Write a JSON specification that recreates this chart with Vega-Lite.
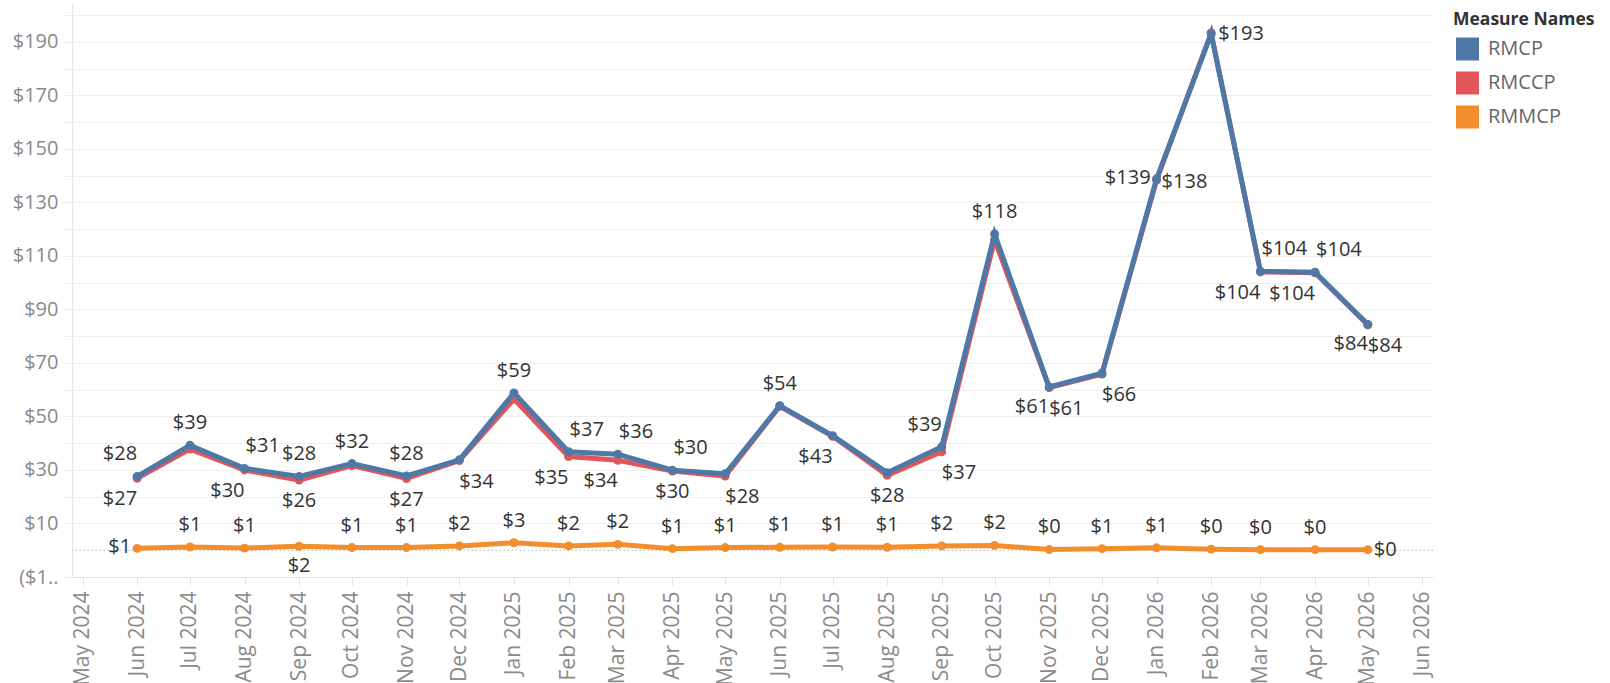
{
  "$schema": "https://vega.github.io/schema/vega-lite/v6.json",
  "width": 1361,
  "height": 574,
  "autosize": {"type": "none"},
  "padding": {"left": 72, "top": 3, "right": 177, "bottom": 106},
  "config": {
    "view": {"stroke": null},
    "font": "Open Sans",
    "text": {"fontSize": 20, "color": "#333333"},
    "axis": {"labelOverlap": false}
  },
  "resolve": {"axis": {"y": "independent"}},
  "data": {"values": [
    {"month": "2024-06-01T00:00:00", "RMCP": 27.6, "RMCCP": 26.9, "RMMCP": 0.7, "lRMCP": "$28", "lRMCCP": "$27", "lRMMCP": "$1"},
    {"month": "2024-07-01T00:00:00", "RMCP": 39.2, "RMCCP": 37.8, "RMMCP": 1.2, "lRMCP": "$39", "lRMCCP": "", "lRMMCP": "$1"},
    {"month": "2024-08-01T00:00:00", "RMCP": 30.6, "RMCCP": 30.0, "RMMCP": 0.8, "lRMCP": "$31", "lRMCCP": "$30", "lRMMCP": "$1"},
    {"month": "2024-09-01T00:00:00", "RMCP": 27.6, "RMCCP": 26.2, "RMMCP": 1.5, "lRMCP": "$28", "lRMCCP": "$26", "lRMMCP": "$2"},
    {"month": "2024-10-01T00:00:00", "RMCP": 32.4, "RMCCP": 31.6, "RMMCP": 1.0, "lRMCP": "$32", "lRMCCP": "", "lRMMCP": "$1"},
    {"month": "2024-11-01T00:00:00", "RMCP": 27.8, "RMCCP": 26.8, "RMMCP": 1.0, "lRMCP": "$28", "lRMCCP": "$27", "lRMMCP": "$1"},
    {"month": "2024-12-01T00:00:00", "RMCP": 33.8, "RMCCP": 33.5, "RMMCP": 1.6, "lRMCP": "", "lRMCCP": "$34", "lRMMCP": "$2"},
    {"month": "2025-01-01T00:00:00", "RMCP": 58.8, "RMCCP": 56.5, "RMMCP": 2.8, "lRMCP": "$59", "lRMCCP": "", "lRMMCP": "$3"},
    {"month": "2025-02-01T00:00:00", "RMCP": 36.8, "RMCCP": 35.0, "RMMCP": 1.6, "lRMCP": "$37", "lRMCCP": "$35", "lRMMCP": "$2"},
    {"month": "2025-03-01T00:00:00", "RMCP": 35.9, "RMCCP": 33.6, "RMMCP": 2.2, "lRMCP": "$36", "lRMCCP": "$34", "lRMMCP": "$2"},
    {"month": "2025-04-01T00:00:00", "RMCP": 29.9, "RMCCP": 29.6, "RMMCP": 0.6, "lRMCP": "$30", "lRMCCP": "$30", "lRMMCP": "$1"},
    {"month": "2025-05-01T00:00:00", "RMCP": 28.6, "RMCCP": 27.7, "RMMCP": 1.0, "lRMCP": "", "lRMCCP": "$28", "lRMMCP": "$1"},
    {"month": "2025-06-01T00:00:00", "RMCP": 54.0, "RMCCP": 53.8, "RMMCP": 1.1, "lRMCP": "$54", "lRMCCP": "", "lRMMCP": "$1"},
    {"month": "2025-07-01T00:00:00", "RMCP": 42.8, "RMCCP": 42.6, "RMMCP": 1.2, "lRMCP": "", "lRMCCP": "$43", "lRMMCP": "$1"},
    {"month": "2025-08-01T00:00:00", "RMCP": 29.0, "RMCCP": 28.0, "RMMCP": 1.1, "lRMCP": "", "lRMCCP": "$28", "lRMMCP": "$1"},
    {"month": "2025-09-01T00:00:00", "RMCP": 38.7, "RMCCP": 36.8, "RMMCP": 1.6, "lRMCP": "$39", "lRMCCP": "$37", "lRMMCP": "$2"},
    {"month": "2025-10-01T00:00:00", "RMCP": 118.2, "RMCCP": 116.0, "RMMCP": 1.8, "lRMCP": "$118", "lRMCCP": "", "lRMMCP": "$2"},
    {"month": "2025-11-01T00:00:00", "RMCP": 61.0, "RMCCP": 60.8, "RMMCP": 0.3, "lRMCP": "$61", "lRMCCP": "$61", "lRMMCP": "$0"},
    {"month": "2025-12-01T00:00:00", "RMCP": 66.2, "RMCCP": 65.8, "RMMCP": 0.6, "lRMCP": "", "lRMCCP": "$66", "lRMMCP": "$1"},
    {"month": "2026-01-01T00:00:00", "RMCP": 138.8, "RMCCP": 138.3, "RMMCP": 0.9, "lRMCP": "$139", "lRMCCP": "$138", "lRMMCP": "$1"},
    {"month": "2026-02-01T00:00:00", "RMCP": 193.0, "RMCCP": 193.3, "RMMCP": 0.4, "lRMCP": "$193", "lRMCCP": "", "lRMMCP": "$0"},
    {"month": "2026-03-01T00:00:00", "RMCP": 104.2, "RMCCP": 104.0, "RMMCP": 0.2, "lRMCP": "$104", "lRMCCP": "$104", "lRMMCP": "$0"},
    {"month": "2026-04-01T00:00:00", "RMCP": 103.9, "RMCCP": 103.7, "RMMCP": 0.2, "lRMCP": "$104", "lRMCCP": "$104", "lRMMCP": "$0"},
    {"month": "2026-05-01T00:00:00", "RMCP": 84.4, "RMCCP": 84.2, "RMMCP": 0.2, "lRMCP": "$84", "lRMCCP": "$84", "lRMMCP": "$0"}
  ]},
  "encoding": {
    "x": {
      "field": "month", "type": "temporal",
      "scale": {"domain": [{"year": 2024, "month": 4, "date": 25}, {"year": 2026, "month": 6, "date": 7}]},
      "axis": {
        "title": null, "grid": false,
        "tickCount": {"interval": "month", "step": 1},
        "format": "%b %Y", "labelAngle": 270, "labelAlign": "right", "labelBaseline": "middle",
        "labelFontSize": 21, "labelColor": "#8a8a8a", "labelPadding": 6,
        "labelFlush": false, "labelOverlap": false, "labelBound": false,
        "tickSize": 8, "tickColor": "#e3e3e3", "domainColor": "#e3e3e3"
      }
    }
  },
  "layer": [
    {
      "data": {"values": [{"z": 0}]},
      "mark": {"type": "rule", "color": "#aaaaaa", "strokeDash": [1.5, 2.5], "strokeWidth": 1},
      "encoding": {
        "x": null,
        "y": {"field": "z", "type": "quantitative", "scale": {"domain": [-10, 204.5], "nice": false, "zero": false},
          "axis": {"orient": "left", "title": null, "values": [20, 40, 60, 80, 100, 120, 140, 160, 180, 200], "labels": false, "domain": false, "tickSize": 9, "tickColor": "#ececec", "grid": true, "gridColor": "#eeeeee", "gridWidth": 1.2}
        }
      }
    },
    {
      "mark": {"type": "line", "strokeWidth": 5, "point": {"filled": true, "size": 80}},
      "encoding": {
        "y": {"field": "RMCCP", "type": "quantitative", "scale": {"domain": [-10, 204.5], "nice": false, "zero": false},
          "axis": {"orient": "left", "title": null, "values": [-10, 10, 30, 50, 70, 90, 110, 130, 150, 170, 190], "labelExpr": "datum.value < 0 ? '($1..' : '$' + datum.value", "labelFontSize": 20, "labelColor": "#8a8a8a", "labelPadding": 5, "tickSize": 9, "tickColor": "#ececec", "domainColor": "#e6e6e6", "grid": true, "gridColor": "#eeeeee", "gridWidth": 1.2, "labelOverlap": false, "labelFlush": false}},
        "color": {
          "datum": "RMCCP",
          "scale": {"domain": ["RMCP", "RMCCP", "RMMCP"], "range": ["#4e79a7", "#e15759", "#f28e2b"]},
          "legend": {
            "orient": "none", "legendX": 1381, "legendY": 8, "padding": 0,
            "title": "Measure Names", "titleFontSize": 17.5, "titleFontWeight": "bold", "titleColor": "#333333", "titlePadding": 9,
            "symbolType": "square", "symbolSize": 529, "symbolStrokeWidth": 0, "symbolOpacity": 1, "symbolOffset": 3,
            "labelFontSize": 20, "labelColor": "#666666", "labelOffset": 9, "rowPadding": 11,
            "encode": {"symbols": {"update": {"fill": {"scale": "color", "field": "value"}, "strokeWidth": {"value": 0}, "opacity": {"value": 1}}}}
          }
        }
      }
    },
    {
      "mark": {"type": "line", "strokeWidth": 5, "point": {"filled": true, "size": 80}},
      "encoding": {
        "y": {"field": "RMCP", "type": "quantitative", "axis": null},
        "color": {"datum": "RMCP"}
      }
    },
    {
      "mark": {"type": "line", "strokeWidth": 5, "point": {"filled": true, "size": 80}},
      "encoding": {
        "y": {"field": "RMMCP", "type": "quantitative", "axis": null},
        "color": {"datum": "RMMCP"}
      }
    },
    {
      "transform": [{"filter": "indexof(['2024-08','2025-02','2025-03','2025-04','2026-03','2026-04','2024-06','2025-09','2026-01','2026-02','2025-11','2026-05'], timeFormat(toDate(datum.month), '%Y-%m')) < 0"}],
      "mark": {"type": "text", "dy": -22},
      "encoding": {"y": {"field": "RMCP", "type": "quantitative", "axis": null}, "text": {"field": "lRMCP"}}
    },
    {
      "transform": [{"filter": "indexof(['2024-08','2025-02','2025-03','2025-04','2026-03','2026-04'], timeFormat(toDate(datum.month), '%Y-%m')) >= 0"}],
      "mark": {"type": "text", "dy": -22, "dx": 1, "align": "left"},
      "encoding": {"y": {"field": "RMCP", "type": "quantitative", "axis": null}, "text": {"field": "lRMCP"}}
    },
    {
      "transform": [{"filter": "indexof(['2024-06','2025-09'], timeFormat(toDate(datum.month), '%Y-%m')) >= 0"}],
      "mark": {"type": "text", "dy": -22, "dx": 0, "align": "right"},
      "encoding": {"y": {"field": "RMCP", "type": "quantitative", "axis": null}, "text": {"field": "lRMCP"}}
    },
    {
      "transform": [{"filter": "indexof(['2026-01'], timeFormat(toDate(datum.month), '%Y-%m')) >= 0"}],
      "mark": {"type": "text", "dy": -1, "dx": -6, "align": "right"},
      "encoding": {"y": {"field": "RMCP", "type": "quantitative", "axis": null}, "text": {"field": "lRMCP"}}
    },
    {
      "transform": [{"filter": "indexof(['2026-02'], timeFormat(toDate(datum.month), '%Y-%m')) >= 0"}],
      "mark": {"type": "text", "dy": 0, "dx": 7, "align": "left"},
      "encoding": {"y": {"field": "RMCP", "type": "quantitative", "axis": null}, "text": {"field": "lRMCP"}}
    },
    {
      "transform": [{"filter": "indexof(['2025-11','2026-05'], timeFormat(toDate(datum.month), '%Y-%m')) >= 0"}],
      "mark": {"type": "text", "dy": 20, "dx": 0, "align": "right"},
      "encoding": {"y": {"field": "RMCP", "type": "quantitative", "axis": null}, "text": {"field": "lRMCP"}}
    },
    {
      "transform": [{"filter": "indexof(['2024-06','2024-08','2025-02','2025-03','2025-07','2026-03','2026-04','2024-12','2025-05','2025-09','2025-11','2025-12','2026-05','2026-01'], timeFormat(toDate(datum.month), '%Y-%m')) < 0"}],
      "mark": {"type": "text", "dy": 21},
      "encoding": {"y": {"field": "RMCCP", "type": "quantitative", "axis": null}, "text": {"field": "lRMCCP"}}
    },
    {
      "transform": [{"filter": "indexof(['2024-06','2024-08','2025-02','2025-03','2025-07','2026-03','2026-04'], timeFormat(toDate(datum.month), '%Y-%m')) >= 0"}],
      "mark": {"type": "text", "dy": 21, "dx": 0, "align": "right"},
      "encoding": {"y": {"field": "RMCCP", "type": "quantitative", "axis": null}, "text": {"field": "lRMCCP"}}
    },
    {
      "transform": [{"filter": "indexof(['2024-12','2025-05','2025-09','2025-11','2025-12','2026-05'], timeFormat(toDate(datum.month), '%Y-%m')) >= 0"}],
      "mark": {"type": "text", "dy": 21, "dx": 0, "align": "left"},
      "encoding": {"y": {"field": "RMCCP", "type": "quantitative", "axis": null}, "text": {"field": "lRMCCP"}}
    },
    {
      "transform": [{"filter": "indexof(['2026-01'], timeFormat(toDate(datum.month), '%Y-%m')) >= 0"}],
      "mark": {"type": "text", "dy": 2, "dx": 5, "align": "left"},
      "encoding": {"y": {"field": "RMCCP", "type": "quantitative", "axis": null}, "text": {"field": "lRMCCP"}}
    },
    {
      "transform": [{"filter": "indexof(['2024-06','2024-09','2026-05'], timeFormat(toDate(datum.month), '%Y-%m')) < 0"}],
      "mark": {"type": "text", "dy": -22},
      "encoding": {"y": {"field": "RMMCP", "type": "quantitative", "axis": null}, "text": {"field": "lRMMCP"}}
    },
    {
      "transform": [{"filter": "indexof(['2024-06'], timeFormat(toDate(datum.month), '%Y-%m')) >= 0"}],
      "mark": {"type": "text", "dy": -1, "dx": -6, "align": "right"},
      "encoding": {"y": {"field": "RMMCP", "type": "quantitative", "axis": null}, "text": {"field": "lRMMCP"}}
    },
    {
      "transform": [{"filter": "indexof(['2024-09'], timeFormat(toDate(datum.month), '%Y-%m')) >= 0"}],
      "mark": {"type": "text", "dy": 20},
      "encoding": {"y": {"field": "RMMCP", "type": "quantitative", "axis": null}, "text": {"field": "lRMMCP"}}
    },
    {
      "transform": [{"filter": "indexof(['2026-05'], timeFormat(toDate(datum.month), '%Y-%m')) >= 0"}],
      "mark": {"type": "text", "dy": 0, "dx": 6, "align": "left"},
      "encoding": {"y": {"field": "RMMCP", "type": "quantitative", "axis": null}, "text": {"field": "lRMMCP"}}
    }
  ]
}
